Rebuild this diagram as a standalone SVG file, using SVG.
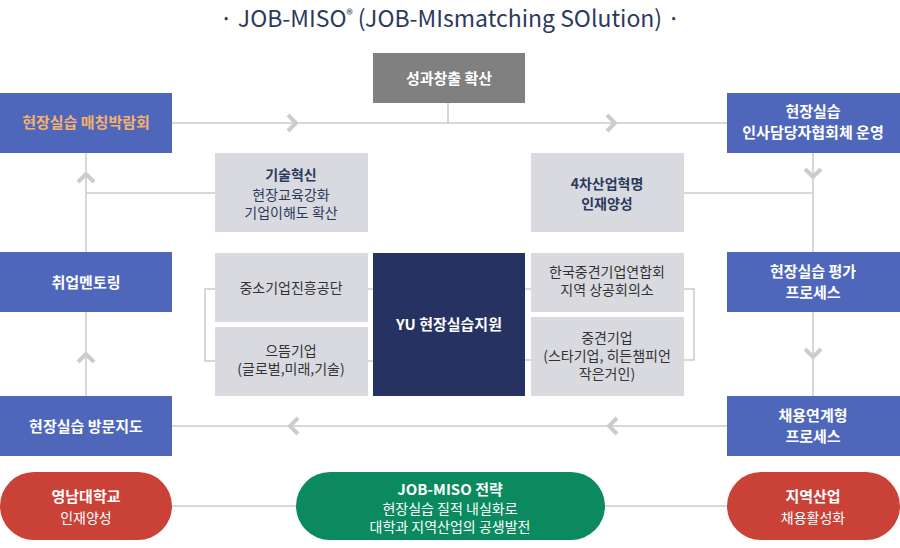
<svg xmlns="http://www.w3.org/2000/svg" width="900" height="548" viewBox="0 0 900 548">
<style>
text{font-family:"Noto Sans CJK KR","Noto Sans",sans-serif;text-anchor:middle;font-size:14px}
.b{fill:#4f67bb}.g{fill:#d9dae0}.w{fill:#fff;font-weight:bold;font-size:15px}.d{fill:#2b3a5c}
.ln{stroke:#cccccc;stroke-width:1.5;fill:none}.ch{stroke:#cccccc;stroke-width:4;fill:none}
</style>
<text x="450" y="27" style="font-size:23px;fill:#2b3a5c">· JOB-MISO<tspan font-size="13" dy="-8">®</tspan><tspan dy="8"> (JOB-MIsmatching SOlution) ·</tspan></text>
<g id="connectors">
<path class="ln" d="M172 123H727M448 103V123M86 153V396M86 193H215M813 153V396M684 193H813M172 426H727M172 506H727"/>
<path class="ln" d="M215 289H205V361H215M368 289H373M368 361H373M525 289H531M525 360H531M684 289H694V360H684"/>
<path class="ch" d="M288 115l8 8-8 8M607 115l8 8-8 8M78 182l8-8 8 8M78 362l8-8 8 8M805 169l8 8 8-8M805 349l8 8 8-8M298 418l-8 8 8 8M617 418l-8 8 8 8"/>
</g>
<g id="n1"><rect x="373" y="53" width="152" height="50" fill="#808080"/><text x="449" y="84" class="w">성과창출 확산</text></g>
<g id="n2"><rect x="0" y="93" width="172" height="60" class="b"/><text x="86" y="128" style="fill:#f5b26b;font-weight:bold;font-size:15px">현장실습 매칭박람회</text></g>
<g id="n3"><rect x="0" y="252" width="172" height="60" class="b"/><text x="86" y="288" class="w">취업멘토링</text></g>
<g id="n4"><rect x="0" y="396" width="172" height="60" class="b"/><text x="86" y="432" class="w">현장실습 방문지도</text></g>
<g id="n5"><rect x="727" y="93" width="173" height="60" class="b"/><text x="813" y="117" class="w">현장실습</text><text x="813" y="138" class="w">인사담당자협회체 운영</text></g>
<g id="n6"><rect x="727" y="252" width="173" height="60" class="b"/><text x="813" y="277" class="w">현장실습 평가</text><text x="813" y="298" class="w">프로세스</text></g>
<g id="n7"><rect x="727" y="396" width="173" height="60" class="b"/><text x="813" y="421" class="w">채용연계형</text><text x="813" y="442" class="w">프로세스</text></g>
<g id="n8"><rect x="215" y="153" width="153" height="79" class="g"/><text x="291" y="180" class="d" font-weight="bold">기술혁신</text><text x="291" y="200" class="d" font-size="13">현장교육강화</text><text x="291" y="218" class="d" font-size="13">기업이해도 확산</text></g>
<g id="n9"><rect x="531" y="153" width="153" height="79" class="g"/><text x="607" y="189" class="d" font-weight="bold">4차산업혁명</text><text x="607" y="209" class="d" font-weight="bold">인재양성</text></g>
<g id="n10"><rect x="215" y="253" width="153" height="69" class="g"/><text x="291" y="293" fill="#333" font-size="13">중소기업진흥공단</text></g>
<g id="n11"><rect x="215" y="327" width="153" height="69" class="g"/><text x="291" y="356" fill="#333" font-size="13">으뜸기업</text><text x="291" y="374" fill="#333" font-size="13">(글로벌,미래,기술)</text></g>
<g id="n12"><rect x="373" y="253" width="152" height="143" fill="#263362"/><text x="449" y="330" class="w">YU 현장실습지원</text></g>
<g id="n13"><rect x="531" y="253" width="153" height="59" class="g"/><text x="607" y="277" fill="#333" font-size="13">한국중견기업연합회</text><text x="607" y="295" fill="#333" font-size="13">지역 상공회의소</text></g>
<g id="n14"><rect x="531" y="317" width="153" height="79" class="g"/><text x="607" y="343" fill="#333" font-size="13">중견기업</text><text x="607" y="361" fill="#333" font-size="13">(스타기업, 히든챔피언</text><text x="607" y="379" fill="#333" font-size="13">작은거인)</text></g>
<g id="n15"><rect x="0" y="472" width="172" height="68" rx="34" fill="#c94137"/><text x="86" y="502" class="w">영남대학교</text><text x="86" y="523" fill="#fff" font-size="13">인재양성</text></g>
<g id="n16"><rect x="296" y="472" width="309" height="68" rx="34" fill="#0a8a5e"/><text x="450" y="495" class="w">JOB-MISO 전략</text><text x="450" y="514" fill="#fff" font-size="13">현장실습 질적 내실화로</text><text x="450" y="532" fill="#fff" font-size="13">대학과 지역산업의 공생발전</text></g>
<g id="n17"><rect x="727" y="472" width="173" height="68" rx="34" fill="#c94137"/><text x="813" y="502" class="w">지역산업</text><text x="813" y="523" fill="#fff" font-size="13">채용활성화</text></g>
</svg>
